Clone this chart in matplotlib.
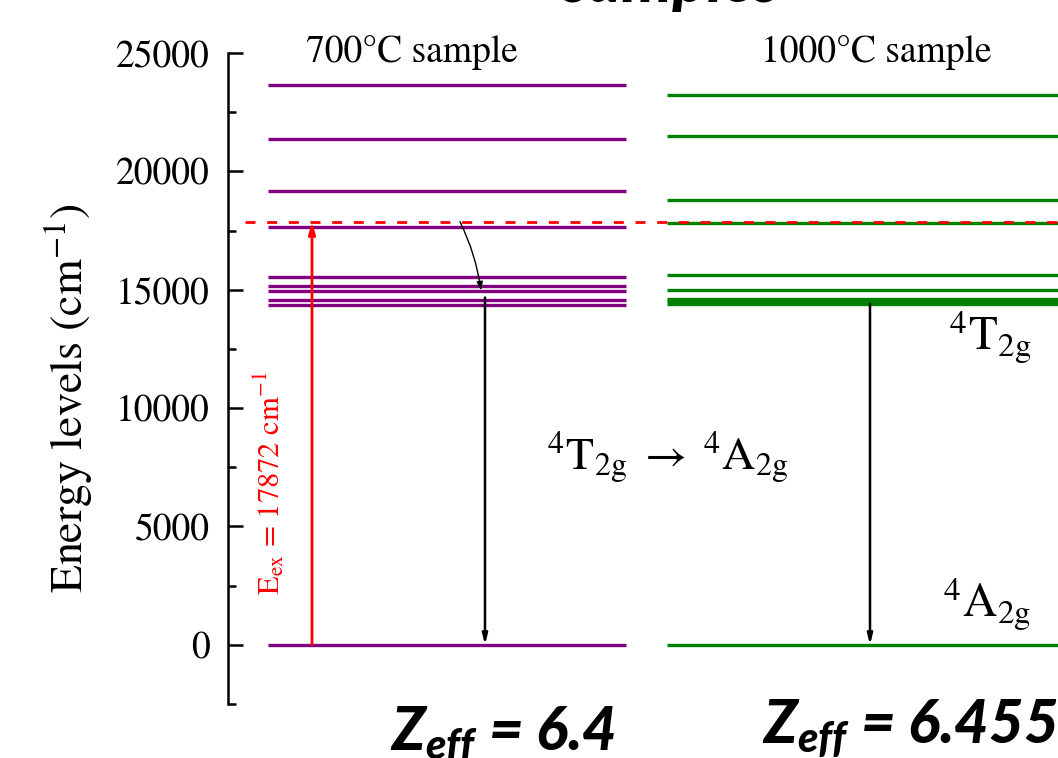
import matplotlib
matplotlib.use("Agg")
import matplotlib.pyplot as plt
from matplotlib.ticker import MultipleLocator

plt.rcParams['font.family'] = ['STIXGeneral', 'DejaVu Serif']
plt.rcParams['mathtext.fontset'] = 'stix'
plt.rcParams['mathtext.bfit'] = 'Lato:black:italic'

# energy levels (cm^-1)
levels_700 = [0, 14370, 14580, 14940, 15140, 15530, 17650, 19150, 21370, 23650]
levels_1000 = [0, 14400, 14505, 14610, 14990, 15640, 17820, 18790, 21500, 23230]
E_ex = 17872
sample_labels = ["700\u00b0C sample", "1000\u00b0C sample"]
zeff_labels = ["6.4", "6.455"]

PURPLE = "#800080"
GREEN = "#008000"
RED = "#ff0000"

fig = plt.figure(figsize=(10.58, 7.58), dpi=100)
# x data runs in figure pixels so the columns line up with the picture
ax = fig.add_axes([228 / 1058, 54 / 758, 830 / 1058, 651 / 758])
ax.set_xlim(228, 1058)
ax.set_ylim(-2500, 25000)

# columns
col_700 = (268, 626)
col_1000 = (667, 1070)
ax.hlines(levels_700, *col_700, color=PURPLE, lw=2.4)
ax.hlines(levels_1000, *col_1000, color=GREEN, lw=2.4)

# excitation energy
ax.plot([245, 1058], [E_ex, E_ex], color=RED, lw=2, dashes=(3.6, 4.2))
ax.annotate("", xy=(312, E_ex), xytext=(312, 0),
            arrowprops=dict(arrowstyle="-|>,head_length=0.7,head_width=0.2",
                            color=RED, lw=2, shrinkA=0, shrinkB=0))
ax.text(270, 6840, r"E$_{\mathrm{ex}}$ = %d cm$^{-1}$" % E_ex, color=RED,
        rotation=90, ha="center", va="center", fontsize=22)

# relaxation + emission (700)
ax.annotate("", xy=(481, min(levels_700[1:]) + 600), xytext=(460, E_ex),
            arrowprops=dict(arrowstyle="-|>,head_length=0.5,head_width=0.18",
                            color="black", lw=1, shrinkA=0, shrinkB=0,
                            connectionstyle="arc3,rad=-0.08"))
ax.annotate("", xy=(485, 0), xytext=(485, min(levels_700[1:]) + 300),
            arrowprops=dict(arrowstyle="-|>,head_length=0.6,head_width=0.15",
                            color="black", lw=1.8, shrinkA=0, shrinkB=0))
# emission (1000)
ax.annotate("", xy=(870, 0), xytext=(870, min(levels_1000[1:])),
            arrowprops=dict(arrowstyle="-|>,head_length=0.6,head_width=0.15",
                            color="black", lw=1.8, shrinkA=0, shrinkB=0))

# column labels
ax.text(412, 25000, sample_labels[0], ha="center", va="center", fontsize=27)
ax.text(876, 25000, sample_labels[1], ha="center", va="center", fontsize=27)

ax.text(668, 7900, r"$^{4}\mathrm{T}_{\mathrm{2g}}\;\rightarrow\;{}^{4}\mathrm{A}_{\mathrm{2g}}$",
        ha="center", va="center", fontsize=33)
ax.text(990, 13000, r"$^4$T$_{\mathrm{2g}}$", ha="center", va="center", fontsize=34)
ax.text(987, 1700, r"$^4$A$_{\mathrm{2g}}$", ha="center", va="center", fontsize=34)

# Zeff values
zfont = dict(family="Lato", weight="black", style="italic", fontsize=43,
             math_fontfamily="custom", clip_on=False)
ax.text(503, -4450, r"$\mathbfit{Z_{eff}}$ = %s" % zeff_labels[0],
        ha="center", va="baseline", **zfont)
ax.text(910, -4150, r"$\mathbfit{Z_{eff}}$ = %s" % zeff_labels[1],
        ha="center", va="baseline", **zfont)

# title mostly cut off at the top
fig.text(672 / 1058, 1 - 2 / 758, "samples", ha="center", va="baseline",
         fontsize=46, family="Lato", weight="black", style="italic")

# axis styling
for side in ["top", "right", "bottom"]:
    ax.spines[side].set_visible(False)
ax.spines["left"].set_bounds(-2500, 25000)
ax.spines["left"].set_linewidth(1.8)
ax.set_xticks([])
ax.yaxis.set_major_locator(MultipleLocator(5000))
ax.yaxis.set_minor_locator(MultipleLocator(2500))
ax.tick_params(axis="y", which="major", direction="in", length=11, width=1.8,
               labelsize=27, pad=13)
ax.tick_params(axis="y", which="minor", direction="in", length=6, width=1.8)
ax.set_ylabel(r"Energy levels (cm$^{-1}$)", fontsize=33)
ax.yaxis.set_label_coords(-0.16, 0.47)

fig.savefig("out.png", dpi=100)
